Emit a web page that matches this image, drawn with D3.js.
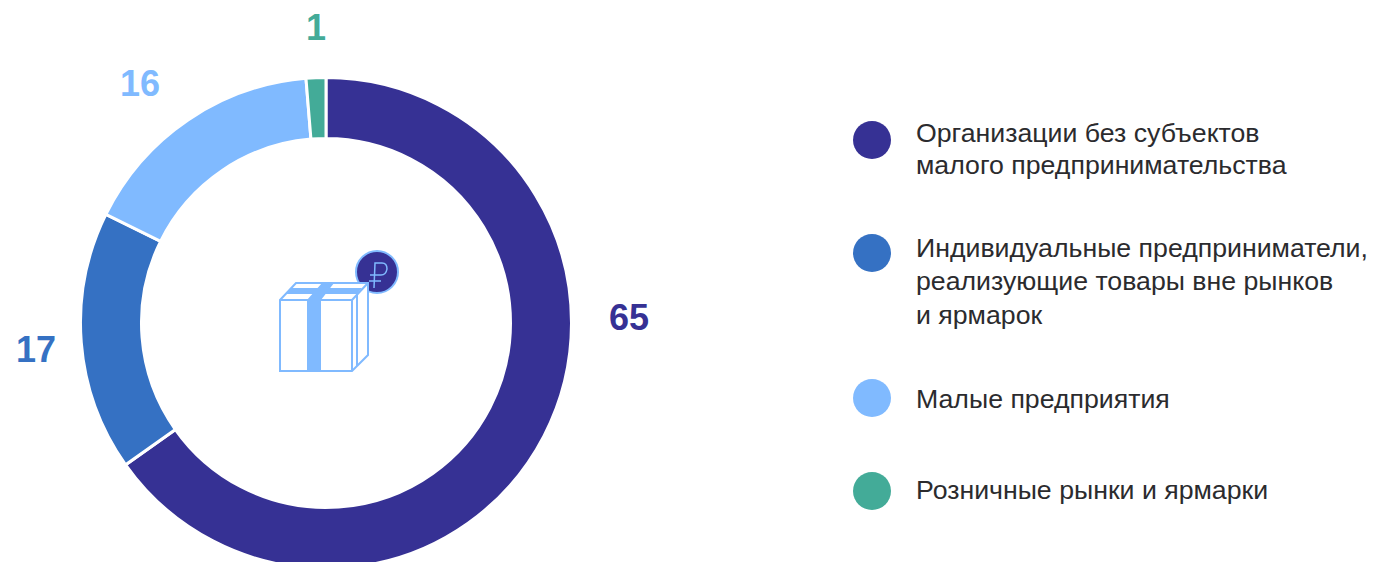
<!DOCTYPE html>
<html>
<head>
<meta charset="utf-8">
<script src="https://cdn.jsdelivr.net/npm/d3@7"></script>
<style>
  html, body { margin: 0; padding: 0; background: #fff; overflow: hidden; }
  text { font-family: "Liberation Sans", Arial, sans-serif; }
</style>
</head>
<body>
<div id="chart"></div>
<script>
// shares (printed labels are rounded)
var shares = [65.2, 17.1, 16.4, 1.3]
var valueLabels = ["65", "17", "16", "1"]
var colors = ["#363194", "#3571c3", "#80baff", "#43ab98"]
var legendLines = [
  ["Организации без субъектов", "малого предпринимательства"],
  ["Индивидуальные предприниматели,", "реализующие товары вне рынков", "и ярмарок"],
  ["Малые предприятия"],
  ["Розничные рынки и ярмарки"]
]
var legendDotY = [140, 253, 398, 491]
var legendLineY = [[142, 174], [257, 290, 324], [408], [499]]
var labelPos = [[629, 330], [36, 362], [140, 96], [316, 40]]

var svg = d3.select("#chart")
    .append("svg")
    .attr("width", 1373)
    .attr("height", 562)

let ring = svg.append("g")
    .attr("transform", "translate(326, 323)")

var pie = d3.pie().sort(null)
var arc = d3.arc().innerRadius(184.5).outerRadius(245.5)

ring.selectAll("path")
    .data(pie(shares))
    .join("path")
    .attr("d", arc)
    .attr("fill", (d, i) => colors[i])
    .attr("stroke", "#fff")
    .attr("stroke-width", 3)

svg.selectAll(".value")
    .data(valueLabels)
    .join("text")
    .attr("class", "value")
    .attr("x", (d, i) => labelPos[i][0])
    .attr("y", (d, i) => labelPos[i][1])
    .attr("text-anchor", "middle")
    .style("font-size", "36px")
    .style("font-weight", "bold")
    .attr("fill", (d, i) => colors[i])
    .text(d => d)

// legend
let legend = svg.append("g")

legend.selectAll("circle")
    .data(colors)
    .join("circle")
    .attr("cx", 872)
    .attr("cy", (d, i) => legendDotY[i])
    .attr("r", 19)
    .attr("fill", d => d)

legendLines.forEach(function (lines, i) {
  lines.forEach(function (line, j) {
    legend.append("text")
        .attr("x", 916)
        .attr("y", legendLineY[i][j])
        .style("font-size", "26.7px")
        .attr("fill", "#2b2b2e")
        .text(line)
  })
})

// box icon in the middle
let icon = svg.append("g")
    .attr("fill", "none")
    .attr("stroke", "#80baff")
    .attr("stroke-width", 2)

icon.append("circle")
    .attr("cx", 377)
    .attr("cy", 272)
    .attr("r", 21)
    .attr("fill", "#363194")

icon.append("path")
    .attr("d", "M374 288L375 263H382Q387 263 387 269Q386 275 381 275H370M369 281H381")
    .attr("stroke-width", 1.5)

icon.append("path")
    .attr("d", "M280 300L296 283H368V355L352 371H280Z")
    .attr("fill", "#fff")
icon.append("path")
    .attr("d", "M280 300H352V371M352 300L368 283M357 295V366")
icon.append("path")
    .attr("d", "M307 300H321V371H307Z")
    .attr("fill", "#80baff")
    .attr("stroke", "none")
icon.append("path")
    .attr("d", "M307 300L322 283H334L321 300Z")
    .attr("fill", "#80baff")
    .attr("stroke", "none")
icon.append("path")
    .attr("d", "M286 294H357L362 288H291Z")
    .attr("fill", "#80baff")
    .attr("stroke", "none")
</script>
</body>
</html>
